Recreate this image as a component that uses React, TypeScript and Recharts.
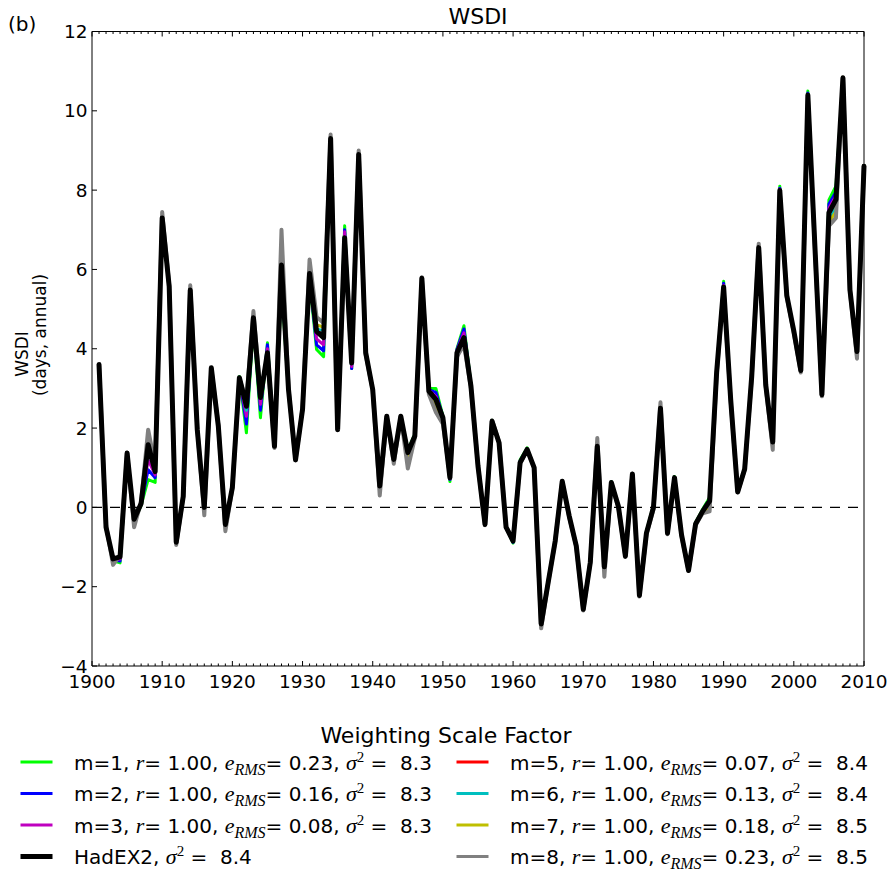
import React from 'react'
import { LineChart, Line, XAxis, YAxis, ReferenceLine } from 'recharts'

// annual WSDI anomalies, 1901..2010
const firstYear = 1901

const hadex2 = [
  3.6, -0.5, -1.3, -1.25, 1.37, -0.3, 0.1, 1.58, 0.9, 7.3,
  5.57, -0.88, 0.28, 5.48, 1.96, 0.0, 3.52, 2.05, -0.43, 0.5,
  3.27, 2.55, 4.78, 2.77, 3.9, 1.54, 6.11, 2.97, 1.2, 2.47,
  5.9, 4.44, 4.28, 9.3, 1.96, 6.8, 3.64, 8.9, 3.9, 2.97,
  0.54, 2.3, 1.21, 2.3, 1.38, 1.8, 5.78, 2.93, 2.72, 2.26,
  0.75, 3.9, 4.28, 3.05, 1.04, -0.43, 2.17, 1.63, -0.5, -0.85,
  1.13, 1.46, 1.0, -2.94, -1.89, -0.85, 0.66, -0.22, -0.97, -2.57,
  -1.39, 1.54, -1.5, 0.63, 0.03, -1.23, 0.84, -2.22, -0.65, 0.0,
  2.5, -0.65, 0.75, -0.69, -1.59, -0.42, -0.1, 0.16, 3.4, 5.56,
  2.73, 0.39, 0.97, 3.3, 6.55, 3.09, 1.65, 7.99, 5.34, 4.45,
  3.45, 10.4, 6.6, 2.84, 7.43, 7.76, 10.83, 5.48, 3.93, 8.6,
]

const m1 = [
  3.6, -0.55, -1.35, -1.4, 1.35, -0.35, 0.05, 0.7, 0.63, 7.2,
  5.5, -0.85, 0.3, 5.45, 1.9, 0.05, 3.5, 2.0, -0.4, 0.5,
  3.3, 1.88, 4.6, 2.26, 4.15, 1.6, 5.6, 2.9, 1.25, 2.45,
  5.7, 3.98, 3.8, 9.35, 2.0, 7.1, 3.5, 8.85, 3.95, 3.0,
  0.6, 2.3, 1.25, 2.3, 1.45, 1.85, 5.75, 3.0, 3.0, 2.3,
  0.65, 4.0, 4.58, 3.1, 1.0, -0.4, 2.2, 1.6, -0.5, -0.9,
  1.2, 1.5, 1.0, -2.9, -1.85, -0.85, 0.65, -0.2, -0.95, -2.55,
  -1.4, 1.5, -1.45, 0.65, 0.05, -1.2, 0.82, -2.2, -0.6, 0.05,
  2.45, -0.6, 0.78, -0.65, -1.55, -0.38, -0.05, 0.25, 3.45, 5.7,
  2.75, 0.4, 1.0, 3.35, 6.55, 3.1, 1.65, 8.1, 5.35, 4.45,
  3.45, 10.5, 6.65, 2.85, 7.75, 8.1, 10.8, 5.5, 3.95, 8.65,
]

const m2 = [
  3.6, -0.52, -1.32, -1.35, 1.36, -0.32, 0.08, 0.95, 0.75, 7.25,
  5.55, -0.86, 0.29, 5.46, 1.93, 0.03, 3.51, 2.02, -0.42, 0.5,
  3.28, 2.1, 4.7, 2.45, 4.1, 1.57, 5.85, 2.93, 1.22, 2.46,
  5.8, 4.1, 3.95, 9.32, 1.98, 7.0, 3.5, 8.87, 3.92, 2.98,
  0.57, 2.3, 1.23, 2.3, 1.41, 1.82, 5.76, 2.97, 2.9, 2.28,
  0.7, 3.98, 4.5, 3.08, 1.02, -0.42, 2.18, 1.62, -0.5, -0.88,
  1.17, 1.48, 1.0, -2.92, -1.87, -0.85, 0.66, -0.21, -0.96, -2.56,
  -1.4, 1.52, -1.48, 0.64, 0.04, -1.22, 0.83, -2.21, -0.63, 0.02,
  2.48, -0.63, 0.76, -0.67, -1.57, -0.4, -0.08, 0.2, 3.42, 5.65,
  2.74, 0.39, 0.98, 3.32, 6.55, 3.1, 1.65, 8.05, 5.34, 4.45,
  3.45, 10.45, 6.62, 2.84, 7.65, 7.95, 10.82, 5.49, 3.94, 8.62,
]

const m3 = [
  3.6, -0.51, -1.31, -1.3, 1.37, -0.31, 0.09, 1.2, 0.82, 7.28,
  5.56, -0.87, 0.28, 5.47, 1.95, 0.02, 3.52, 2.04, -0.43, 0.5,
  3.28, 2.3, 4.75, 2.6, 4.0, 1.55, 5.95, 2.95, 1.21, 2.47,
  5.85, 4.25, 4.1, 9.31, 1.97, 6.95, 3.55, 8.88, 3.91, 2.97,
  0.55, 2.3, 1.22, 2.3, 1.39, 1.81, 5.77, 2.95, 2.8, 2.27,
  0.72, 3.95, 4.4, 3.06, 1.03, -0.43, 2.17, 1.63, -0.5, -0.86,
  1.15, 1.47, 1.0, -2.93, -1.88, -0.85, 0.66, -0.22, -0.97, -2.57,
  -1.39, 1.53, -1.49, 0.63, 0.03, -1.23, 0.84, -2.22, -0.64, 0.01,
  2.49, -0.64, 0.75, -0.68, -1.58, -0.41, -0.09, 0.18, 3.41, 5.6,
  2.73, 0.39, 0.97, 3.31, 6.55, 3.09, 1.65, 8.02, 5.34, 4.45,
  3.45, 10.42, 6.61, 2.84, 7.55, 7.85, 10.83, 5.48, 3.93, 8.61,
]

const m5 = [
  3.6, -0.5, -1.3, -1.26, 1.37, -0.3, 0.1, 1.5, 0.9, 7.3,
  5.57, -0.88, 0.28, 5.48, 1.96, 0.0, 3.52, 2.05, -0.43, 0.5,
  3.27, 2.5, 4.78, 2.75, 3.9, 1.54, 6.1, 2.97, 1.2, 2.47,
  5.9, 4.45, 4.38, 9.3, 1.96, 6.8, 3.62, 8.9, 3.9, 2.97,
  0.54, 2.3, 1.21, 2.3, 1.38, 1.8, 5.78, 2.93, 2.72, 2.26,
  0.75, 3.9, 4.28, 3.05, 1.04, -0.43, 2.17, 1.63, -0.5, -0.85,
  1.13, 1.46, 1.0, -2.94, -1.89, -0.85, 0.66, -0.22, -0.97, -2.57,
  -1.39, 1.55, -1.52, 0.63, 0.03, -1.23, 0.84, -2.22, -0.65, 0.0,
  2.52, -0.65, 0.75, -0.69, -1.59, -0.42, -0.1, 0.14, 3.4, 5.55,
  2.73, 0.39, 0.97, 3.3, 6.56, 3.09, 1.63, 7.99, 5.34, 4.45,
  3.45, 10.4, 6.6, 2.84, 7.45, 7.75, 10.83, 5.48, 3.92, 8.6,
]

const m6 = [
  3.6, -0.5, -1.32, -1.25, 1.37, -0.32, 0.1, 1.45, 0.9, 7.3,
  5.57, -0.88, 0.28, 5.48, 1.95, 0.0, 3.52, 2.05, -0.45, 0.5,
  3.27, 2.45, 4.8, 2.75, 3.88, 1.54, 6.2, 2.97, 1.2, 2.47,
  5.95, 4.5, 4.45, 9.32, 1.96, 6.78, 3.62, 8.92, 3.9, 2.97,
  0.5, 2.3, 1.2, 2.3, 1.35, 1.8, 5.78, 2.92, 2.65, 2.24,
  0.75, 3.88, 4.25, 3.05, 1.04, -0.43, 2.17, 1.63, -0.5, -0.85,
  1.13, 1.46, 1.0, -2.96, -1.89, -0.85, 0.66, -0.22, -0.97, -2.58,
  -1.39, 1.58, -1.55, 0.62, 0.03, -1.23, 0.84, -2.23, -0.65, 0.0,
  2.55, -0.66, 0.75, -0.7, -1.59, -0.43, -0.12, 0.1, 3.38, 5.52,
  2.72, 0.39, 0.96, 3.28, 6.58, 3.08, 1.6, 7.98, 5.33, 4.43,
  3.43, 10.38, 6.58, 2.83, 7.3, 7.55, 10.84, 5.47, 3.88, 8.62,
]

const m7 = [
  3.6, -0.48, -1.35, -1.23, 1.37, -0.38, 0.12, 1.7, 0.95, 7.35,
  5.58, -0.9, 0.28, 5.52, 1.97, -0.1, 3.51, 2.06, -0.5, 0.49,
  3.26, 2.6, 4.85, 2.8, 3.85, 1.52, 6.5, 2.98, 1.19, 2.48,
  6.05, 4.6, 4.55, 9.35, 1.96, 6.75, 3.66, 8.95, 3.88, 2.96,
  0.42, 2.3, 1.15, 2.3, 1.2, 1.78, 5.79, 2.9, 2.55, 2.18,
  0.77, 3.85, 4.2, 3.03, 1.04, -0.44, 2.18, 1.64, -0.5, -0.83,
  1.12, 1.46, 1.0, -2.99, -1.9, -0.85, 0.66, -0.23, -0.97, -2.58,
  -1.38, 1.65, -1.62, 0.61, 0.02, -1.24, 0.85, -2.24, -0.66, -0.02,
  2.6, -0.67, 0.74, -0.71, -1.6, -0.44, -0.13, 0.0, 3.37, 5.5,
  2.71, 0.38, 0.96, 3.27, 6.6, 3.07, 1.55, 7.97, 5.32, 4.42,
  3.42, 10.37, 6.57, 2.82, 7.2, 7.45, 10.85, 5.46, 3.82, 8.64,
]

const m8 = [
  3.6, -0.45, -1.45, -1.2, 1.38, -0.5, 0.15, 1.96, 1.05, 7.45,
  5.6, -0.95, 0.27, 5.6, 2.0, -0.2, 3.5, 2.08, -0.6, 0.48,
  3.25, 2.7, 4.95, 2.9, 3.8, 1.5, 7.0, 3.0, 1.18, 2.5,
  6.25, 4.8, 4.65, 9.4, 1.95, 6.7, 3.7, 9.0, 3.85, 2.95,
  0.3, 2.3, 1.1, 2.3, 0.98, 1.75, 5.8, 2.85, 2.4, 2.1,
  0.8, 3.8, 4.1, 3.0, 1.05, -0.45, 2.2, 1.65, -0.5, -0.8,
  1.1, 1.45, 1.0, -3.05, -1.9, -0.85, 0.66, -0.25, -0.98, -2.6,
  -1.38, 1.75, -1.75, 0.6, 0.0, -1.25, 0.85, -2.25, -0.68, -0.05,
  2.65, -0.68, 0.72, -0.72, -1.6, -0.45, -0.15, -0.1, 3.35, 5.45,
  2.7, 0.38, 0.95, 3.25, 6.65, 3.05, 1.45, 7.95, 5.3, 4.4,
  3.4, 10.35, 6.55, 2.8, 7.1, 7.3, 10.85, 5.45, 3.75, 8.65,
]

const modelKeys = ['m1', 'm2', 'm3', 'm5', 'm6', 'm7', 'm8']
const modelLabels = ['m=1', 'm=2', 'm=3', 'm=5', 'm=6', 'm=7', 'm=8']
const modelColors = ['#00ff00', '#0000ff', '#bf00bf', '#ff0000', '#00bfbf', '#bfbf00', '#808080']
const modelR = ['1.00', '1.00', '1.00', '1.00', '1.00', '1.00', '1.00']
const modelERMS = ['0.23', '0.16', '0.08', '0.07', '0.13', '0.18', '0.23']
const modelVar = ['8.3', '8.3', '8.3', '8.4', '8.4', '8.5', '8.5']
const hadexVar = '8.4'

const modelValues = [m1, m2, m3, m5, m6, m7, m8]

const yTicks = [-4, -2, 0, 2, 4, 6, 8, 10, 12]
const xTicks = Array.from({ length: 111 }, (_, i) => 1900 + i)

const data = hadex2.map((v, i) => {
  const row: Record<string, number> = { year: firstYear + i, had: v }
  modelKeys.forEach((k, j) => { row[k] = modelValues[j][i] })
  return row
})

const FONT = '"DejaVu Sans", sans-serif'
const MATH = '"Liberation Serif", serif'
const fmt = (v: number) => (v < 0 ? `\u2212${-v}` : `${v}`)

function BottomTick(props: any) {
  const { x, y, payload } = props
  const major = payload.value % 10 === 0
  return (
    <g>
      <line x1={x} x2={x} y1={y} y2={y - (major ? 5 : 2.5)} stroke="#000" />
      {major && (
        <text x={x} y={y + 21.5} textAnchor="middle" fontSize={18.5} fontFamily={FONT} fill="#000">
          {payload.value}
        </text>
      )}
    </g>
  )
}

function TopTick(props: any) {
  const { x, y, payload } = props
  const major = payload.value % 10 === 0
  return <line x1={x} x2={x} y1={y} y2={y + (major ? 5 : 2.5)} stroke="#000" />
}

function LeftTick(props: any) {
  const { x, y, payload } = props
  return (
    <g>
      <line x1={x} x2={x + 5} y1={y} y2={y} stroke="#000" />
      <text x={x - 4.5} y={y} dy={6.5} textAnchor="end" fontSize={18.5} fontFamily={FONT} fill="#000">
        {fmt(payload.value)}
      </text>
    </g>
  )
}

function RightTick(props: any) {
  const { x, y } = props
  return <line x1={x} x2={x - 5} y1={y} y2={y} stroke="#000" />
}

function LegendText({ x, y, label, r, e, s }: { x: number; y: number; label: string; r?: string; e?: string; s: string }) {
  return (
    <text x={x} y={y} fontSize={20} fontFamily={FONT} fill="#000" xmlSpace="preserve" style={{ whiteSpace: 'pre' }}>
      <tspan>{label}, </tspan>
      {r && (
        <>
          <tspan fontFamily={MATH} fontStyle="italic" fontSize={22}>r</tspan>
          <tspan>= {r}, </tspan>
          <tspan fontFamily={MATH} fontStyle="italic" fontSize={22}>e</tspan>
          <tspan fontFamily={MATH} fontStyle="italic" fontSize={16} dy={5}>RMS</tspan>
          <tspan dy={-5}>= {e}, </tspan>
        </>
      )}
      <tspan fontFamily={MATH} fontStyle="italic" fontSize={22}>σ</tspan>
      <tspan fontFamily={MATH} fontSize={15} dy={-8}>2</tspan>
      <tspan dy={8}> =  {s}</tspan>
    </text>
  )
}

export default function App() {
  const rowsY = [762, 793.5, 825, 856.5]
  const leftCol = [0, 1, 2]
  const rightCol = [3, 4, 5, 6]
  return (
    <div style={{ position: 'absolute', left: 0, top: 0, width: 891, height: 872, background: '#fff' }}>
      <LineChart
        width={891}
        height={872}
        data={data}
        margin={{ top: 21.5, right: 17, bottom: 176, left: 32 }}
      >
        <XAxis
          dataKey="year"
          type="number"
          domain={[1900, 2010]}
          ticks={xTicks}
          interval={0}
          height={30}
          tickSize={0}
          tickMargin={0}
          tickLine={false}
          tick={<BottomTick />}
          axisLine={{ stroke: '#000' }}
        />
        <XAxis
          xAxisId="top"
          orientation="top"
          dataKey="year"
          type="number"
          domain={[1900, 2010]}
          ticks={xTicks}
          interval={0}
          height={10}
          tickSize={0}
          tickMargin={0}
          tickLine={false}
          tick={<TopTick />}
          axisLine={{ stroke: '#000' }}
        />
        <YAxis
          type="number"
          domain={[-4, 12]}
          ticks={yTicks}
          interval={0}
          width={60}
          tickSize={0}
          tickMargin={0}
          tickLine={false}
          tick={<LeftTick />}
          axisLine={{ stroke: '#000' }}
          allowDataOverflow
        />
        <YAxis
          yAxisId="right"
          orientation="right"
          type="number"
          domain={[-4, 12]}
          ticks={yTicks}
          interval={0}
          width={10}
          tickSize={0}
          tickMargin={0}
          tickLine={false}
          tick={<RightTick />}
          axisLine={{ stroke: '#000' }}
        />
        <ReferenceLine y={0} stroke="#000" strokeWidth={1.3} strokeDasharray="10 8" />
        {modelKeys.map((k, j) => (
          <Line
            key={k}
            type="linear"
            dataKey={k}
            stroke={modelColors[j]}
            strokeWidth={k === 'm8' ? 4 : 3}
            strokeLinejoin="round"
            dot={false}
            activeDot={false}
            isAnimationActive={false}
          />
        ))}
        <Line
          type="linear"
          dataKey="had"
          stroke="#000"
          strokeWidth={5}
          strokeLinejoin="round"
          strokeLinecap="round"
          dot={false}
          activeDot={false}
          isAnimationActive={false}
        />
      </LineChart>
      <svg width={891} height={872} style={{ position: 'absolute', left: 0, top: 0, pointerEvents: 'none' }}>
        <text x={8} y={31} fontSize={20} fontFamily={FONT} fill="#000">(b)</text>
        <text x={478} y={24} textAnchor="middle" fontSize={22} fontFamily={FONT} fill="#000">WSDI</text>
        <text x={27.5} y={354} transform="rotate(-90 27.5 354)" textAnchor="middle" fontSize={17} fontFamily={FONT} fill="#000">WSDI</text>
        <text x={46} y={335} transform="rotate(-90 46 335)" textAnchor="middle" fontSize={17} fontFamily={FONT} fill="#000">(days, annual)</text>
        <text x={446} y={743} textAnchor="middle" fontSize={22} fontFamily={FONT} fill="#000">Weighting Scale Factor</text>
        {leftCol.map((j, i) => (
          <g key={modelKeys[j]}>
            <line x1={20.5} x2={52.5} y1={rowsY[i]} y2={rowsY[i]} stroke={modelColors[j]} strokeWidth={3} />
            <LegendText x={74} y={rowsY[i] + 7.5} label={modelLabels[j]} r={modelR[j]} e={modelERMS[j]} s={modelVar[j]} />
          </g>
        ))}
        <line x1={20.5} x2={52.5} y1={rowsY[3]} y2={rowsY[3]} stroke="#000" strokeWidth={5} />
        <LegendText x={74} y={rowsY[3] + 7.5} label="HadEX2" s={hadexVar} />
        {rightCol.map((j, i) => (
          <g key={modelKeys[j]}>
            <line x1={456.5} x2={488.5} y1={rowsY[i]} y2={rowsY[i]} stroke={modelColors[j]} strokeWidth={3} />
            <LegendText x={510} y={rowsY[i] + 7.5} label={modelLabels[j]} r={modelR[j]} e={modelERMS[j]} s={modelVar[j]} />
          </g>
        ))}
      </svg>
    </div>
  )
}
